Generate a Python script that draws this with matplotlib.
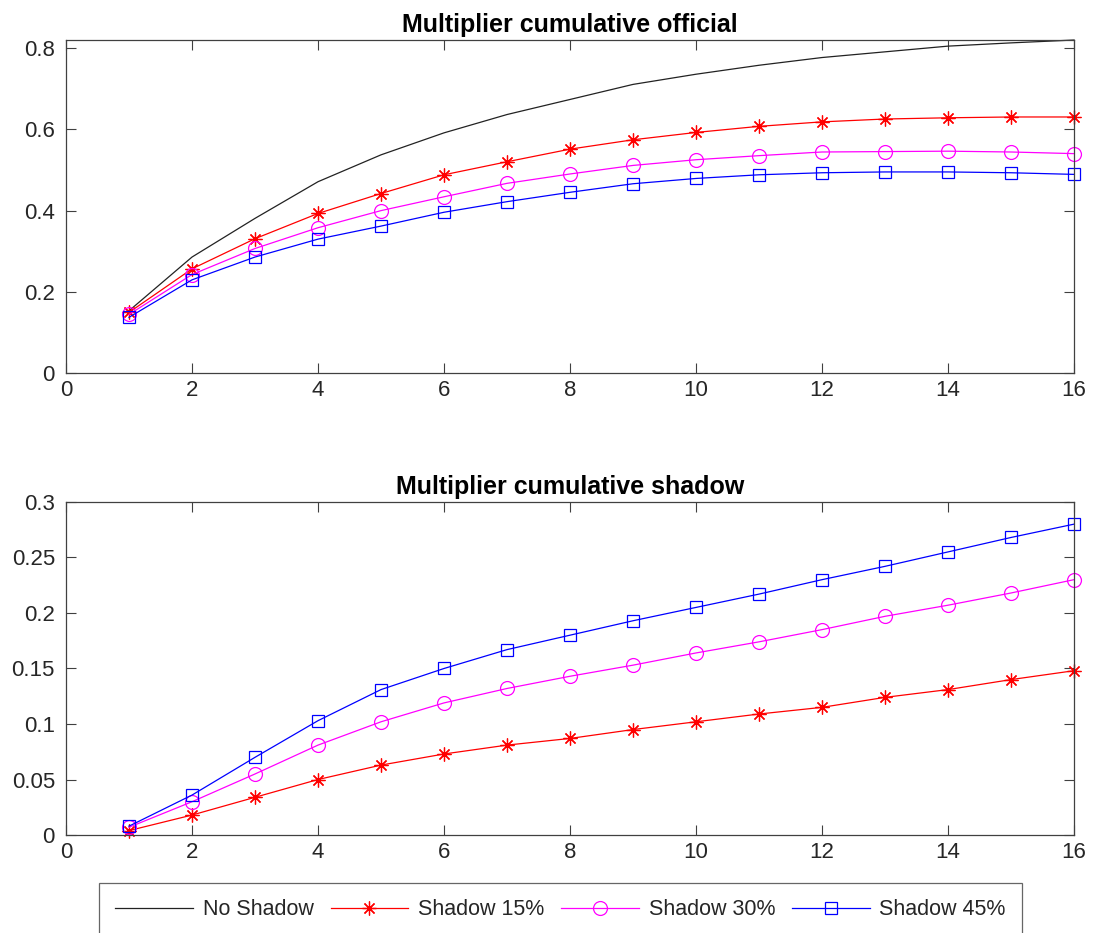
import matplotlib
matplotlib.use("Agg")
import matplotlib.pyplot as plt

plt.rcParams["font.family"] = ["Liberation Sans", "DejaVu Sans"]

# horizon (quarters)
periods = list(range(1, 17))

# cumulative multiplier, official sector
official_no_shadow = [0.154, 0.286, 0.381, 0.471, 0.537, 0.591, 0.636, 0.673,
                      0.710, 0.735, 0.757, 0.776, 0.790, 0.804, 0.812, 0.819]
official_shadow_15 = [0.150, 0.257, 0.331, 0.393, 0.442, 0.488, 0.520, 0.551,
                      0.574, 0.592, 0.607, 0.618, 0.625, 0.628, 0.630, 0.630]
official_shadow_30 = [0.145, 0.243, 0.307, 0.358, 0.400, 0.434, 0.467, 0.490,
                      0.511, 0.525, 0.535, 0.544, 0.545, 0.546, 0.544, 0.540]
official_shadow_45 = [0.138, 0.230, 0.286, 0.330, 0.362, 0.396, 0.422, 0.445,
                      0.466, 0.479, 0.488, 0.493, 0.495, 0.495, 0.493, 0.489]

# cumulative multiplier, shadow sector
shadow_shadow_15 = [0.004, 0.018, 0.034, 0.050, 0.063, 0.073, 0.081, 0.087,
                    0.095, 0.102, 0.109, 0.115, 0.124, 0.131, 0.140, 0.148]
shadow_shadow_30 = [0.007, 0.030, 0.055, 0.081, 0.102, 0.119, 0.132, 0.143,
                    0.153, 0.164, 0.174, 0.185, 0.197, 0.207, 0.218, 0.230]
shadow_shadow_45 = [0.008, 0.036, 0.070, 0.103, 0.131, 0.150, 0.167, 0.180,
                    0.193, 0.205, 0.217, 0.230, 0.242, 0.255, 0.268, 0.280]

series_labels = ["No Shadow", "Shadow 15%", "Shadow 30%", "Shadow 45%"]
ASTERISK = (8, 2, 0)   # "+" and "x" together, like the classic '*' marker
styles = [
    dict(color="#222222", marker=None, ms=0),
    dict(color="#ff0000", marker=ASTERISK, ms=10),
    dict(color="#ff00ff", marker="o", ms=10),
    dict(color="#0000ff", marker="s", ms=8),
]

fig = plt.figure(figsize=(10.95, 9.33), dpi=100)
ax_top = fig.add_axes([0.0603, 0.5997, 0.9205, 0.3574])
ax_bot = fig.add_axes([0.0603, 0.1050, 0.9205, 0.3570])


def draw_series(ax, values, style, label):
    ax.plot(periods, values, color=style["color"], linewidth=0.9,
            marker=style["marker"], markersize=style["ms"],
            markerfacecolor="none", markeredgewidth=0.9, label=label,
            clip_on=False)


for vals, st, lab in zip([official_no_shadow, official_shadow_15,
                          official_shadow_30, official_shadow_45],
                         styles, series_labels):
    draw_series(ax_top, vals, st, lab)

for vals, st, lab in zip([shadow_shadow_15, shadow_shadow_30, shadow_shadow_45],
                         styles[1:], series_labels[1:]):
    draw_series(ax_bot, vals, st, lab)

ax_top.set_ylim(0, max(official_no_shadow))
ax_top.set_yticks([0, 0.2, 0.4, 0.6, 0.8])
ax_top.set_yticklabels(["0", "0.2", "0.4", "0.6", "0.8"])
ax_bot.set_ylim(0, 0.3)
ax_bot.set_yticks([0, 0.05, 0.1, 0.15, 0.2, 0.25, 0.3])
ax_bot.set_yticklabels(["0", "0.05", "0.1", "0.15", "0.2", "0.25", "0.3"])

ax_top.set_title("Multiplier cumulative official", fontsize=18,
                 fontweight="bold", pad=6)
ax_bot.set_title("Multiplier cumulative shadow", fontsize=18,
                 fontweight="bold", pad=6)

for ax in (ax_top, ax_bot):
    ax.set_xlim(0, 16)
    ax.set_xticks(range(0, 17, 2))
    ax.tick_params(direction="in", top=True, right=True, length=7,
                   width=0.8, color="#404040", labelsize=16,
                   labelcolor="#262626")
    ax.tick_params(axis="y", pad=8)
    ax.tick_params(axis="x", pad=5)
    for sp in ax.spines.values():
        sp.set_color("#404040")
        sp.set_linewidth(0.9)

handles, labels = ax_top.get_legend_handles_labels()
leg = fig.legend(handles, labels, loc="upper center", ncol=4,
                 bbox_to_anchor=(0.512, 1 - 883 / 933), fontsize=15.5,
                 frameon=True, fancybox=False, handlelength=3.6,
                 handletextpad=0.45, columnspacing=0.8, borderpad=0.75,
                 borderaxespad=0)
leg.get_frame().set_edgecolor("#404040")
leg.get_frame().set_linewidth(0.9)
for t in leg.get_texts():
    t.set_color("#262626")

fig.savefig("out.png", dpi=100)
